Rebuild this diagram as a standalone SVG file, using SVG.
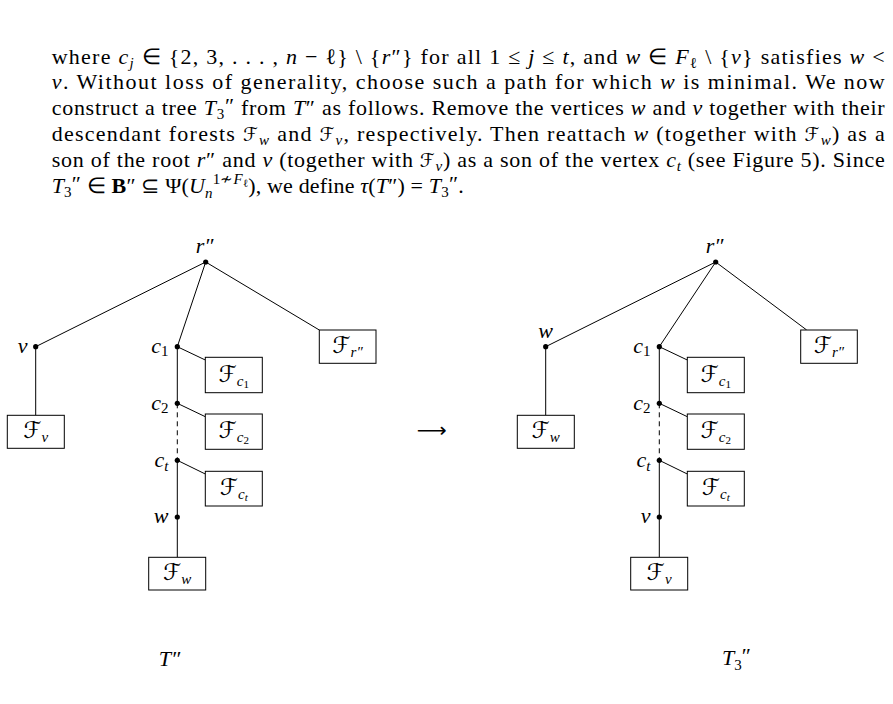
<svg xmlns="http://www.w3.org/2000/svg" width="893" height="704" viewBox="0 0 893 704">
<style>
.p{font-family:"Liberation Serif",serif;font-size:22px;fill:#000}
.i{font-style:italic}
.s{font-size:15px}
.ss{font-size:11px}
.cal{font-family:"DejaVu Serif","DejaVu Sans",serif;font-style:normal;font-size:19px}
.bcal{font-family:"DejaVu Serif","DejaVu Sans",serif;font-style:normal;font-size:23px}
.lbl{font-family:"Liberation Serif",serif;font-size:22px;font-style:italic;fill:#000}
.bl{font-family:"Liberation Serif",serif;font-size:22px;fill:#000}
.box{fill:#fff;stroke:#000;stroke-width:1}
.edge{stroke:#000;stroke-width:1;fill:none}
.dash{stroke-dasharray:5 4}
.dot{fill:#000}
</style>
<rect width="893" height="704" fill="#fff"/>

<g id="paragraph">
<text class="p" x="51.7" y="63.5" textLength="833" lengthAdjust="spacing">where <tspan class="i">c</tspan><tspan class="i s" baseline-shift="-4">j</tspan> ∈ {2, 3, . . . , <tspan class="i">n</tspan> − ℓ} \ {<tspan class="i">r</tspan>″} for all 1 ≤ <tspan class="i">j</tspan> ≤ <tspan class="i">t</tspan>, and <tspan class="i">w</tspan> ∈ <tspan class="i">F</tspan><tspan class="s" baseline-shift="-4">ℓ</tspan> \ {<tspan class="i">v</tspan>} satisfies <tspan class="i">w</tspan> &lt;</text>
<text class="p" x="51.7" y="89.3" textLength="833" lengthAdjust="spacing"><tspan class="i">v</tspan>.  Without loss of generality, choose such a path for which <tspan class="i">w</tspan> is minimal.  We now</text>
<text class="p" x="51.7" y="115" textLength="833" lengthAdjust="spacing">construct a tree <tspan class="i">T</tspan><tspan class="s" baseline-shift="-4">3</tspan><tspan baseline-shift="2">″</tspan> from <tspan class="i">T</tspan>″ as follows. Remove the vertices <tspan class="i">w</tspan> and <tspan class="i">v</tspan> together with their</text>
<text class="p" x="51.7" y="141" textLength="833" lengthAdjust="spacing">descendant forests <tspan class="cal">ℱ</tspan><tspan class="i s" baseline-shift="-4">w</tspan> and <tspan class="cal">ℱ</tspan><tspan class="i s" baseline-shift="-4">v</tspan>, respectively.  Then reattach <tspan class="i">w</tspan> (together with <tspan class="cal">ℱ</tspan><tspan class="i s" baseline-shift="-4">w</tspan>) as a</text>
<text class="p" x="51.7" y="166.7" textLength="833" lengthAdjust="spacing">son of the root <tspan class="i">r</tspan>″ and <tspan class="i">v</tspan> (together with <tspan class="cal">ℱ</tspan><tspan class="i s" baseline-shift="-4">v</tspan>) as a son of the vertex <tspan class="i">c</tspan><tspan class="i s" baseline-shift="-4">t</tspan> (see Figure 5). Since</text>
<text class="p" x="51.7" y="192.5" textLength="412" lengthAdjust="spacing"><tspan class="i">T</tspan><tspan class="s" baseline-shift="-4">3</tspan><tspan baseline-shift="2">″</tspan> ∈ <tspan font-weight="bold">B</tspan>″ ⊆ Ψ(<tspan class="i">U</tspan><tspan class="i s" baseline-shift="-5">n</tspan><tspan class="s" baseline-shift="9">1≁<tspan class="i">F</tspan><tspan class="ss" baseline-shift="-3">ℓ</tspan></tspan>), we define <tspan class="i">τ</tspan>(<tspan class="i">T</tspan>″) = <tspan class="i">T</tspan><tspan class="s" baseline-shift="-4">3</tspan><tspan baseline-shift="2">″</tspan>.</text>
</g>

<g id="connectors">
<line class="edge" x1="205.7" y1="262" x2="35.7" y2="346.7"/>
<line class="edge" x1="205.7" y1="262" x2="177.3" y2="346.7"/>
<line class="edge" x1="205.7" y1="262" x2="319.3" y2="330"/>
<line class="edge" x1="35.7" y1="346.7" x2="35.7" y2="415.3"/>
<line class="edge" x1="177.3" y1="346.7" x2="205.3" y2="360"/>
<line class="edge" x1="177.3" y1="346.7" x2="177.3" y2="403.3"/>
<line class="edge" x1="177.3" y1="403.3" x2="205.3" y2="416.7"/>
<line class="edge dash" x1="177.3" y1="403.3" x2="177.3" y2="460.3"/>
<line class="edge" x1="177.3" y1="460.3" x2="205.3" y2="474"/>
<line class="edge" x1="177.3" y1="460.3" x2="177.3" y2="557.3"/>
<line class="edge" x1="715.7" y1="262" x2="545.7" y2="346.7"/>
<line class="edge" x1="715.7" y1="262" x2="659.3" y2="346.7"/>
<line class="edge" x1="715.7" y1="262" x2="806.7" y2="330"/>
<line class="edge" x1="545.7" y1="346.7" x2="545.7" y2="415.3"/>
<line class="edge" x1="659.3" y1="346.7" x2="687.3" y2="360"/>
<line class="edge" x1="659.3" y1="346.7" x2="659.3" y2="403.3"/>
<line class="edge" x1="659.3" y1="403.3" x2="687.3" y2="416.7"/>
<line class="edge dash" x1="659.3" y1="403.3" x2="659.3" y2="460.3"/>
<line class="edge" x1="659.3" y1="460.3" x2="687.3" y2="474"/>
<line class="edge" x1="659.3" y1="460.3" x2="659.3" y2="557.3"/>
</g>

<g id="L-root"><circle class="dot" cx="205.7" cy="262" r="2.6"/><text class="lbl" x="204.5" y="253" text-anchor="middle">r″</text></g>
<g id="L-v"><circle class="dot" cx="35.7" cy="346.7" r="2.6"/><text class="lbl" x="27.5" y="353" text-anchor="end">v</text></g>
<g id="L-c1"><circle class="dot" cx="177.3" cy="346.7" r="2.6"/><text class="lbl" x="168.5" y="353" text-anchor="end">c<tspan class="s" font-style="normal" baseline-shift="-3">1</tspan></text></g>
<g id="L-c2"><circle class="dot" cx="177.3" cy="403.3" r="2.6"/><text class="lbl" x="168.5" y="410" text-anchor="end">c<tspan class="s" font-style="normal" baseline-shift="-3">2</tspan></text></g>
<g id="L-ct"><circle class="dot" cx="177.3" cy="460.3" r="2.6"/><text class="lbl" x="168.5" y="466.5" text-anchor="end">c<tspan class="s" baseline-shift="-4">t</tspan></text></g>
<g id="L-w"><circle class="dot" cx="177.3" cy="517" r="2.6"/><text class="lbl" x="168.5" y="523" text-anchor="end">w</text></g>
<g id="L-Fr"><rect class="box" x="319.3" y="330" width="56.7" height="33.3"/><text class="bl" x="347.6" y="353" text-anchor="middle"><tspan class="bcal">ℱ</tspan><tspan class="i s" baseline-shift="-4">r″</tspan></text></g>
<g id="L-Fc1"><rect class="box" x="205.3" y="357.3" width="57" height="35.4"/><text class="bl" x="233.8" y="381.5" text-anchor="middle"><tspan class="bcal">ℱ</tspan><tspan class="i s" baseline-shift="-4">c</tspan><tspan class="ss" baseline-shift="-6">1</tspan></text></g>
<g id="L-Fc2"><rect class="box" x="205.3" y="414" width="57" height="35.3"/><text class="bl" x="233.8" y="438" text-anchor="middle"><tspan class="bcal">ℱ</tspan><tspan class="i s" baseline-shift="-4">c</tspan><tspan class="ss" baseline-shift="-6">2</tspan></text></g>
<g id="L-Fct"><rect class="box" x="205.3" y="471.3" width="57" height="34.7"/><text class="bl" x="233.8" y="495" text-anchor="middle"><tspan class="bcal">ℱ</tspan><tspan class="i s" baseline-shift="-4">c</tspan><tspan class="i ss" baseline-shift="-6">t</tspan></text></g>
<g id="L-Fv"><rect class="box" x="7.3" y="415.3" width="57" height="33"/><text class="bl" x="35.8" y="438.3" text-anchor="middle"><tspan class="bcal">ℱ</tspan><tspan class="i s" baseline-shift="-4">v</tspan></text></g>
<g id="L-Fw"><rect class="box" x="148.7" y="557.3" width="57" height="32.7"/><text class="bl" x="177.2" y="580" text-anchor="middle"><tspan class="bcal">ℱ</tspan><tspan class="i s" baseline-shift="-4">w</tspan></text></g>
<g id="L-title"><text class="lbl" x="169.5" y="666" text-anchor="middle" font-size="23">T″</text></g>

<g id="arrow"><text x="416.7" y="437" font-family="DejaVu Sans,sans-serif" font-size="20" textLength="30" lengthAdjust="spacingAndGlyphs">⟶</text></g>

<g id="R-root"><circle class="dot" cx="715.7" cy="262" r="2.6"/><text class="lbl" x="714.5" y="253" text-anchor="middle">r″</text></g>
<g id="R-w"><circle class="dot" cx="545.7" cy="346.7" r="2.6"/><text class="lbl" x="545.7" y="338" text-anchor="middle">w</text></g>
<g id="R-c1"><circle class="dot" cx="659.3" cy="346.7" r="2.6"/><text class="lbl" x="650.5" y="353" text-anchor="end">c<tspan class="s" font-style="normal" baseline-shift="-3">1</tspan></text></g>
<g id="R-c2"><circle class="dot" cx="659.3" cy="403.3" r="2.6"/><text class="lbl" x="650.5" y="410" text-anchor="end">c<tspan class="s" font-style="normal" baseline-shift="-3">2</tspan></text></g>
<g id="R-ct"><circle class="dot" cx="659.3" cy="460.3" r="2.6"/><text class="lbl" x="650.5" y="466.5" text-anchor="end">c<tspan class="s" baseline-shift="-4">t</tspan></text></g>
<g id="R-v"><circle class="dot" cx="659.3" cy="517" r="2.6"/><text class="lbl" x="650.5" y="523" text-anchor="end">v</text></g>
<g id="R-Fr"><rect class="box" x="800.7" y="330" width="56.6" height="33.3"/><text class="bl" x="829" y="353" text-anchor="middle"><tspan class="bcal">ℱ</tspan><tspan class="i s" baseline-shift="-4">r″</tspan></text></g>
<g id="R-Fc1"><rect class="box" x="687.3" y="357.3" width="57" height="35.4"/><text class="bl" x="715.8" y="381.5" text-anchor="middle"><tspan class="bcal">ℱ</tspan><tspan class="i s" baseline-shift="-4">c</tspan><tspan class="ss" baseline-shift="-6">1</tspan></text></g>
<g id="R-Fc2"><rect class="box" x="687.3" y="414" width="57" height="35.3"/><text class="bl" x="715.8" y="438" text-anchor="middle"><tspan class="bcal">ℱ</tspan><tspan class="i s" baseline-shift="-4">c</tspan><tspan class="ss" baseline-shift="-6">2</tspan></text></g>
<g id="R-Fct"><rect class="box" x="687.3" y="471.3" width="57" height="34.7"/><text class="bl" x="715.8" y="495" text-anchor="middle"><tspan class="bcal">ℱ</tspan><tspan class="i s" baseline-shift="-4">c</tspan><tspan class="i ss" baseline-shift="-6">t</tspan></text></g>
<g id="R-Fw"><rect class="box" x="517.3" y="415.3" width="57" height="33"/><text class="bl" x="545.8" y="438.3" text-anchor="middle"><tspan class="bcal">ℱ</tspan><tspan class="i s" baseline-shift="-4">w</tspan></text></g>
<g id="R-Fv"><rect class="box" x="630.7" y="557.3" width="57" height="32.7"/><text class="bl" x="659.2" y="580" text-anchor="middle"><tspan class="bcal">ℱ</tspan><tspan class="i s" baseline-shift="-4">v</tspan></text></g>
<g id="R-title"><text class="lbl" x="736.5" y="665" text-anchor="middle" font-size="23">T<tspan class="s" font-style="normal" baseline-shift="-5">3</tspan><tspan baseline-shift="2" font-style="normal">″</tspan></text></g>
</svg>
